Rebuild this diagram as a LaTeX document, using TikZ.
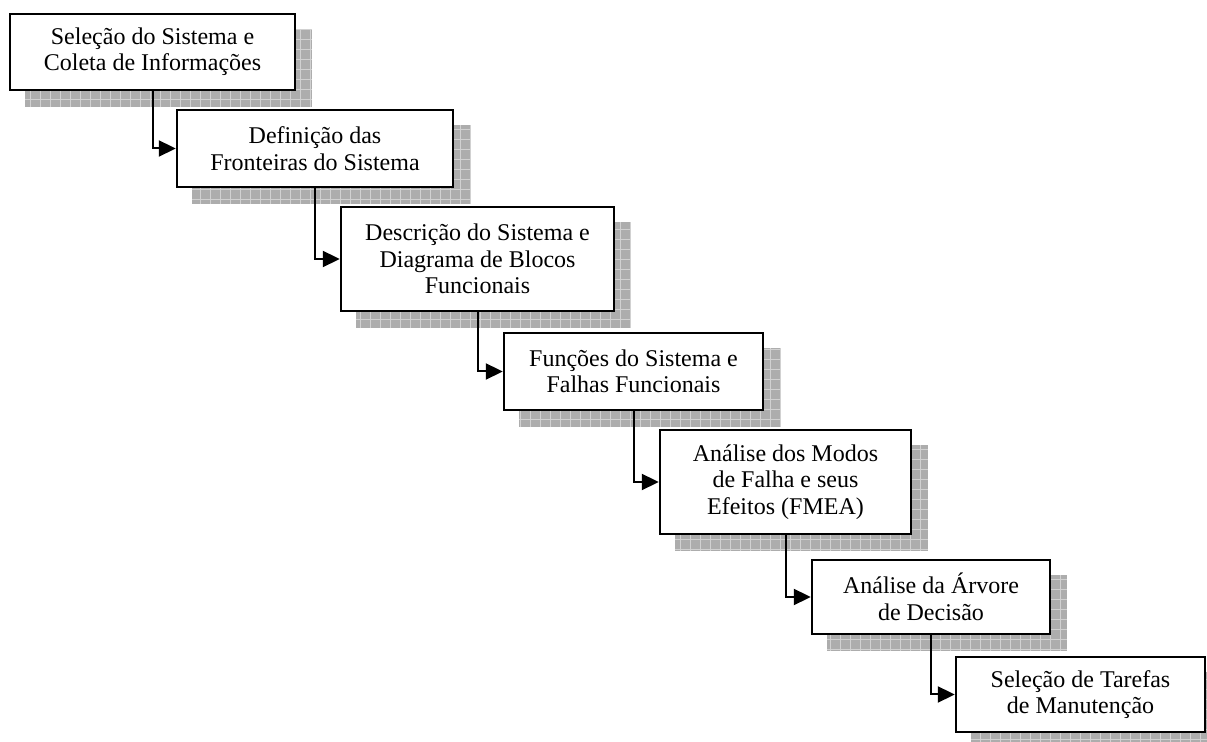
\documentclass[tikz,border=0pt]{standalone}
\usepackage{fontspec}
\setmainfont{Liberation Serif}
\usetikzlibrary{arrows.meta,backgrounds}

\tikzset{
  stage/.style={draw, line width=1.2pt, fill=white, align=center, inner sep=0pt,
    font=\fontsize{12}{13.2}\selectfont},
  shade box/.style={fill=black!32},
  shade grid/.style={draw=black!18, line width=0.5pt},
}

\begin{document}
\begin{tikzpicture}[x=0.5pt, y=-0.5pt, line width=1pt,
    >={Triangle[length=8.5pt,width=8pt]}]
  \useasboundingbox (0,0) rectangle (1207,742);

  \node[stage, minimum width=142.5pt, minimum height=38pt] (sel) at (152.5,52)
    {Seleção do Sistema e\\Coleta de Informações};
  \node[stage, minimum width=138pt, minimum height=38.5pt] (fro) at (315,148.5)
    {Definição das\\Fronteiras do Sistema};
  \node[stage, minimum width=136.5pt, minimum height=52pt] (des) at (477.5,259)
    {Descrição do Sistema e\\Diagrama de Blocos\\Funcionais};
  \node[stage, minimum width=129.5pt, minimum height=38.5pt] (fun) at (633.5,371.5)
    {Funções do Sistema e\\Falhas Funcionais};
  \node[stage, minimum width=125.5pt, minimum height=52pt] (fmea) at (785.5,482)
    {Análise dos Modos\\de Falha e seus\\Efeitos (FMEA)};
  \node[stage, minimum width=119pt, minimum height=37pt] (arv) at (931,597)
    {Análise da Árvore\\de Decisão};
  \node[stage, minimum width=124.5pt, minimum height=37.5pt] (tar) at (1080.5,694.5)
    {Seleção de Tarefas\\de Manutenção};

  % gray grid shadows
  \begin{scope}[on background layer]
    \foreach \n in {sel,fro,des,fun,fmea,arv,tar} {
      \fill[shade box] ([shift={(8pt,-8pt)}]\n.south west) rectangle ([shift={(8pt,-8pt)}]\n.north east);
      \draw[shade grid, step=5pt] ([shift={(8pt,-8pt)}]\n.south west) grid ([shift={(8pt,-8pt)}]\n.north east);
    }
  \end{scope}

  \draw[->] (sel.south) |- (fro.west);
  \draw[->] (fro.south) |- (des.west);
  \draw[->] (des.south) |- (fun.west);
  \draw[->] (fun.south) |- (fmea.west);
  \draw[->] (fmea.south) |- (arv.west);
  \draw[->] (arv.south) |- (tar.west);
\end{tikzpicture}
\end{document}
